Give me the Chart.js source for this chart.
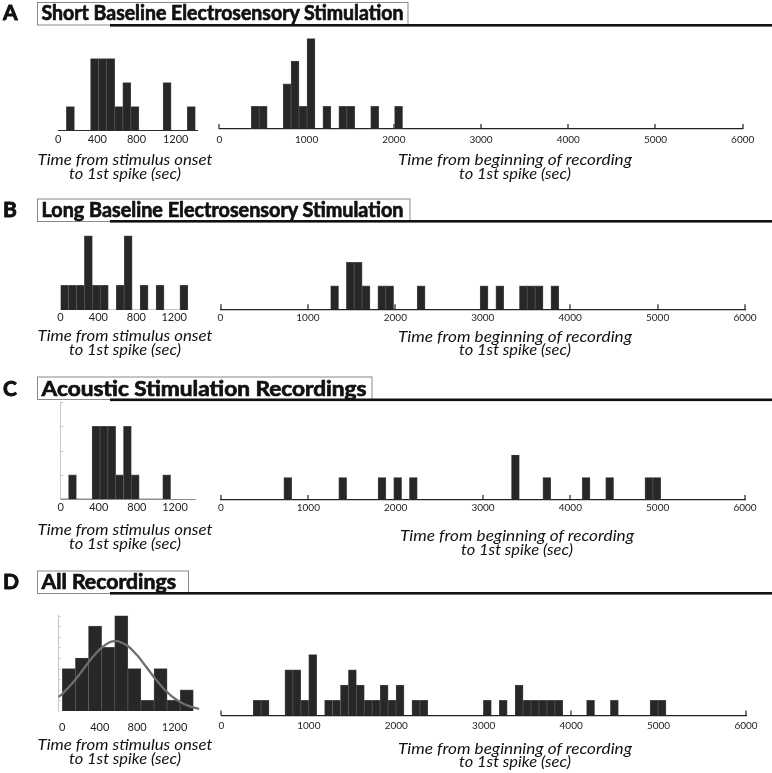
<!DOCTYPE html>
<html><head><meta charset="utf-8">
<script src="https://cdn.jsdelivr.net/npm/chart.js@4.4.0/dist/chart.umd.min.js"></script>
<style>
html,body{margin:0;padding:0;background:#fff;}
#fig{position:relative;width:772px;height:773px;overflow:hidden;background:#fff;}
#fig canvas{position:absolute;}
#fig svg{position:absolute;left:0;top:0;}
</style></head><body>
<div id="fig"></div>
<script>
// ================= DATA =================
const panelLetters = ['A', 'B', 'C', 'D'];
const panelTitles = [
  'Short Baseline Electrosensory Stimulation',
  'Long Baseline Electrosensory Stimulation',
  'Acoustic Stimulation Recordings',
  'All Recordings'
];
const onsetTitle = ['Time from stimulus onset', 'to 1st spike (sec)'];
const recordingTitle = ['Time from beginning of recording', 'to 1st spike (sec)'];
const onsetTicks = [0, 400, 800, 1200];
const recordingTicks = [0, 1000, 2000, 3000, 4000, 5000, 6000];

// Time from stimulus onset to 1st spike: counts per bin (bins start at 0 s)
const onsetBinWidthA = 82.4;
const onsetCountsA = [0, 1, 0, 0, 3, 3, 3, 1, 2, 1, 0, 0, 0, 2, 0, 0, 1];
const onsetBinWidthB = 84;
const onsetCountsB = [1, 1, 1, 3, 1, 1, 0, 1, 3, 0, 1, 0, 1, 0, 0, 1];
const onsetBinWidthC = 82.4;
const onsetCountsC = [0, 1, 0, 0, 3, 3, 3, 1, 3, 1, 0, 0, 0, 1];
const onsetBinWidthD = 140;
const onsetCountsD = [4, 5, 8, 6, 9, 4, 1, 4, 1, 2];

// Fitted normal curve drawn over panel D
const fitX = [-42, 0, 100, 200, 300, 400, 500, 570, 600, 700, 800, 900, 1000, 1100, 1200, 1300, 1400, 1464];
const fitY = [1.32, 1.62, 2.54, 3.65, 4.82, 5.82, 6.46, 6.6, 6.57, 6.13, 5.25, 4.12, 2.97, 1.96, 1.18, 0.66, 0.34, 0.2];

// Time from beginning of recording to 1st spike: counts per bin (bins start at 0 s)
const recBinWidthA = 91.3;
const recCountsA = [0,0,0,0,1,1,0,0,2,3, 1,4,0,1,0,1,1,0,0,1, 0,0,1];
const recBinWidthB = 90;
const recCountsB = [0,0,0,0,0,0,0,0,0,0, 0,0,0,0,1,0,2,2,1,0, 1,1,0,0,0,1,0,0,0,0, 0,0,0,1,0,1,0,0,1,1, 1,0,1];
const recBinWidthC = 89.9;
const recCountsC = [0,0,0,0,0,0,0,0,1,0, 0,0,0,0,0,1,0,0,0,0, 1,0,1,0,1,0,0,0,0,0, 0,0,0,0,0,0,0,2,0,0, 0,1,0,0,0,0,1,0,0,1, 0,0,0,0,1,1];
const recBinWidthD = 90.8;
const recCountsD = [0,0,0,0,1,1,0,0,3,3, 1,4,0,1,1,2,3,2,1,1, 2,1,2,0,1,1,0,0,0,0, 0,0,0,1,0,1,0,2,1,1, 1,1,1,0,0,0,1,0,0,1, 0,0,0,0,1,1];

// count-axis tick marks (panels C and D, left)
const countTicksC = [1, 2, 3, 4];
const countTicksD = [1, 2, 3, 4, 5, 6, 7, 8, 9];

// ================= LAYOUT / STYLE =================
const FONT = 'Lato, "Open Sans", "DejaVu Sans", sans-serif';
const BAR_FILL = '#272727';
const BAR_EDGE = '#555555';
Chart.defaults.font.family = FONT;

const layout = [
  { // A
    left:  {x0: 58.3, x1: 197, xmin: 0, xmax: 1418, base: 130.7, unit: 24, ymax: 3.3, labelY: 139, xLine: '#333'},
    right: {x0: 219.4, x1: 742.7, base: 129, unit: 22.6, ymax: 4.2, labelY: 139.5, xLine: '#222'},
    titleBase: 20, boxTop: 2, boxRight: 408, lineTop: 24, titleW: 362,
    leftTitleY: 165, rightTitleY: 165, rightTitleX: 515
  },
  { // B
    left:  {x0: 60.5, x1: 193.2, xmin: 0, xmax: 1400, base: 310, unit: 24.7, ymax: 3.2, labelY: 317, xLine: null},
    right: {x0: 220.5, x1: 745, base: 309.3, unit: 23.5, ymax: 2.3, labelY: 317.5, xLine: '#222'},
    titleBase: 216.7, boxTop: 198.5, boxRight: 410, lineTop: 220, titleW: 362,
    leftTitleY: 341, rightTitleY: 341.5, rightTitleX: 515
  },
  { // C
    left:  {x0: 60.7, x1: 195, xmin: 0, xmax: 1410, base: 499, unit: 24.2, ymax: 4, labelY: 507, xLine: '#8c8c8c', yTicks: countTicksC},
    right: {x0: 221, x1: 745, base: 500, unit: 22.5, ymax: 2.3, labelY: 508, xLine: '#222'},
    titleBase: 396, boxTop: 376.5, boxRight: 372, lineTop: 398.5, titleW: 325,
    leftTitleY: 535, rightTitleY: 541, rightTitleX: 517
  },
  { // D
    left:  {x0: 58.1, x1: 199.4, xmin: -45, xmax: 1465, base: 711, unit: 10.6, ymax: 9, labelY: 727, xLine: null, yTicks: countTicksD},
    right: {x0: 221.4, x1: 746, base: 715.5, unit: 15.2, ymax: 4.2, labelY: 725.5, xLine: '#222'},
    titleBase: 588.5, boxTop: 570.5, boxRight: 188.5, lineTop: 592, titleW: 134.5,
    leftTitleY: 750, rightTitleY: 753.5, rightTitleX: 515
  }
];

const fig = document.getElementById('fig');

function makeChart(g, binWidth, counts, tickVals, fontSize, isRight, curve) {
  const plotH = g.ymax * g.unit;
  const left = Math.floor(g.x0) - 22;
  const top = Math.floor(g.base - plotH) - 4;
  const width = Math.ceil(g.x1) + 22 - left;
  const height = Math.ceil(g.base) + 26 - top;
  const padL = g.x0 - left;
  const padR = width - (g.x1 - left);
  const padT = (g.base - plotH) - top;
  const axisH = height - (g.base - top);

  const cv = document.createElement('canvas');
  cv.width = width; cv.height = height;
  cv.style.left = left + 'px'; cv.style.top = top + 'px';
  cv.style.width = width + 'px'; cv.style.height = height + 'px';
  fig.appendChild(cv);

  const datasets = [{
    type: 'bar',
    data: counts.map((c, i) => ({x: (i + 0.5) * binWidth, y: c})),
    backgroundColor: BAR_FILL,
    borderColor: BAR_EDGE,
    borderWidth: (ctx) => (ctx.raw && ctx.raw.y > 0) ? 0.7 : 0,
    barPercentage: 1,
    categoryPercentage: 1,
    order: 2
  }];
  if (curve) {
    datasets.push({
      type: 'line',
      data: curve.x.map((x, i) => ({x: x, y: curve.y[i]})),
      borderColor: '#6e6e6e', borderWidth: 2.3,
      pointRadius: 0, tension: 0.4, fill: false, order: 1
    });
  }

  const tickPlugin = {
    id: 'inTicks',
    beforeDatasetsDraw(chart) {
      const {ctx, chartArea: a, scales} = chart;
      ctx.save();
      if (isRight) {
        ctx.strokeStyle = '#222'; ctx.lineWidth = 1.2;
        ctx.beginPath();
        scales.x.ticks.forEach(t => {
          const px = Math.round(scales.x.getPixelForValue(t.value));
          ctx.moveTo(px, a.bottom); ctx.lineTo(px, a.bottom - 5);
        });
        ctx.stroke();
      }
      if (g.yTicks) {
        ctx.strokeStyle = '#c6c6c6'; ctx.lineWidth = 1;
        ctx.beginPath();
        g.yTicks.forEach(v => {
          const py = Math.round(scales.y.getPixelForValue(v)) + 0.5;
          ctx.moveTo(a.left, py); ctx.lineTo(a.left + 2.5, py);
        });
        ctx.stroke();
      }
      ctx.restore();
    }
  };

  new Chart(cv, {
    type: 'bar',
    data: {datasets},
    plugins: [tickPlugin],
    options: {
      responsive: false, animation: false, devicePixelRatio: 1,
      layout: {padding: {left: padL, right: padR, top: padT, bottom: 0}},
      plugins: {legend: {display: false}, tooltip: {enabled: false}, title: {display: false}},
      scales: {
        x: {
          type: 'linear', min: g.xmin !== undefined ? g.xmin : 0, max: g.xmax !== undefined ? g.xmax : 6000,
          offset: false,
          grid: {display: false, drawTicks: false, offset: false},
          border: {display: !!g.xLine, color: g.xLine || '#000', width: isRight ? 1.3 : 1},
          ticks: {
            font: {size: fontSize, family: FONT}, color: '#1e1e1e',
            padding: g.labelY - g.base - 0.6 * fontSize,
            maxRotation: 0, minRotation: 0, autoSkip: false, includeBounds: false,
            callback: (v) => String(v)
          },
          afterBuildTicks: (s) => { s.ticks = tickVals.map(v => ({value: v})); },
          afterFit: (s) => { s.height = axisH; }
        },
        y: {
          type: 'linear', min: 0, max: g.ymax,
          display: !!g.yTicks,
          grid: {display: false, drawTicks: false},
          ticks: {display: false},
          border: {display: !!g.yTicks, color: '#c6c6c6', width: 1},
          afterFit: (s) => { s.width = 0; }
        }
      }
    }
  });
}

const onsetBins = [onsetBinWidthA, onsetBinWidthB, onsetBinWidthC, onsetBinWidthD];
const onsetCounts = [onsetCountsA, onsetCountsB, onsetCountsC, onsetCountsD];
const recBins = [recBinWidthA, recBinWidthB, recBinWidthC, recBinWidthD];
const recCounts = [recCountsA, recCountsB, recCountsC, recCountsD];

for (let p = 0; p < 4; p++) {
  const L = layout[p];
  makeChart(L.left, onsetBins[p], onsetCounts[p], onsetTicks, 11, false,
            p === 3 ? {x: fitX, y: fitY} : null);
  makeChart(L.right, recBins[p], recCounts[p], recordingTicks, 10, true, null);
}

// ================= TEXT / FRAMES (SVG) =================
const NS = 'http://www.w3.org/2000/svg';
const svg = document.createElementNS(NS, 'svg');
svg.setAttribute('width', '772'); svg.setAttribute('height', '773');
fig.appendChild(svg);

function el(tag, attrs, text) {
  const e = document.createElementNS(NS, tag);
  for (const k in attrs) e.setAttribute(k, attrs[k]);
  if (text !== undefined) e.textContent = text;
  svg.appendChild(e);
  return e;
}

for (let p = 0; p < 4; p++) {
  const L = layout[p];
  // title box
  el('rect', {x: 37.5, y: L.boxTop + 0.5, width: L.boxRight - 37.5, height: 22.5,
              fill: 'none', stroke: '#8a8a8a', 'stroke-width': 1});
  // thick rule
  el('rect', {x: 110, y: L.lineTop, width: 662, height: 2.6, fill: '#111'});
  // panel letter
  el('text', {x: 3, y: L.titleBase, 'font-family': FONT, 'font-weight': 'bold', 'font-size': 21, fill: '#111',
              stroke: '#111', 'stroke-width': 0.9, 'stroke-linejoin': 'round'},
     panelLetters[p]);
  // panel title
  el('text', {x: 41.5, y: L.titleBase, 'font-family': FONT, 'font-weight': 'bold', 'font-size': 20, fill: '#111',
              stroke: '#111', 'stroke-width': 0.7, 'stroke-linejoin': 'round',
              textLength: L.titleW, lengthAdjust: 'spacingAndGlyphs'}, panelTitles[p]);
  // left axis title
  el('text', {x: 125, y: L.leftTitleY, 'text-anchor': 'middle', 'font-family': FONT, 'font-style': 'italic',
              'font-size': 16, fill: '#111', textLength: 175, lengthAdjust: 'spacingAndGlyphs'}, onsetTitle[0]);
  el('text', {x: 125, y: L.leftTitleY + 14, 'text-anchor': 'middle', 'font-family': FONT, 'font-style': 'italic',
              'font-size': 16, fill: '#111', textLength: 112, lengthAdjust: 'spacingAndGlyphs'}, onsetTitle[1]);
  // right axis title
  el('text', {x: L.rightTitleX, y: L.rightTitleY, 'text-anchor': 'middle', 'font-family': FONT, 'font-style': 'italic',
              'font-size': 16, fill: '#111', textLength: 234, lengthAdjust: 'spacingAndGlyphs'}, recordingTitle[0]);
  el('text', {x: L.rightTitleX, y: L.rightTitleY + 13.5, 'text-anchor': 'middle', 'font-family': FONT, 'font-style': 'italic',
              'font-size': 16, fill: '#111', textLength: 112, lengthAdjust: 'spacingAndGlyphs'}, recordingTitle[1]);
}
</script>
</body></html>
